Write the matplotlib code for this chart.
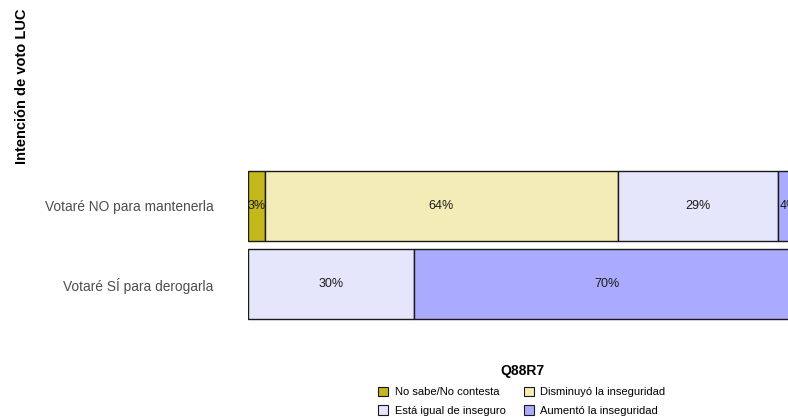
import matplotlib
matplotlib.use("Agg")
import matplotlib.pyplot as plt
from matplotlib.patches import Patch

plt.rcParams['font.family'] = ['Liberation Sans', 'DejaVu Sans']

# datos
grupos = ["Votaré SÍ para derogarla", "Votaré NO para mantenerla"]
categorias = ["No sabe/No contesta", "Disminuyó la inseguridad",
              "Está igual de inseguro", "Aumentó la inseguridad"]
colores = ["#c4b81b", "#f3ecb6", "#e5e5fc", "#aaaafe"]
valores = {
    "No sabe/No contesta":      [0, 3],
    "Disminuyó la inseguridad": [0, 64],
    "Está igual de inseguro":   [30, 29],
    "Aumentó la inseguridad":   [70, 4],
}

W, H = 788, 419
fig = plt.figure(figsize=(W / 100, H / 100), dpi=100)
# el panel sigue mas alla del borde derecho (recortado como en el original)
ax = fig.add_axes([248 / W, 1 - 331 / H, 552 / W, 172 / H])

izq = [0, 0]
for cat, col in zip(categorias, colores):
    vals = valores[cat]
    for i, v in enumerate(vals):
        if v == 0:
            continue
        ax.barh(i, v, left=izq[i], height=0.9, color=col,
                edgecolor='#1a1a1a', linewidth=1.0)
        ax.text(izq[i] + v / 2, i, f"{v}%", ha='center', va='center',
                fontsize=9, color='#1a1a1a')
        izq[i] += v

ax.set_xlim(0, 100)
ax.set_ylim(-0.6, 1.6)
ax.set_yticks(range(len(grupos)))
ax.set_yticklabels(grupos, fontsize=9.9, color='#4d4d4d')
ax.tick_params(axis='y', length=0, pad=25)
ax.set_xticks([])
for s in ax.spines.values():
    s.set_visible(False)

fig.text(22 / W, 1 - 86 / H, "Intención de voto LUC", rotation=90,
         ha='center', va='center', fontsize=10.5, fontweight='bold')

orden = [0, 2, 1, 3]
handles = [Patch(facecolor=colores[k], edgecolor='#1a1a1a', linewidth=0.8,
                 label=categorias[k]) for k in orden]
leg = fig.legend(handles=handles, ncol=2, loc='center',
                 bbox_to_anchor=(522 / W, 1 - 390 / H), frameon=False,
                 title="Q88R7", fontsize=8, handlelength=0.9,
                 handleheight=0.9, handletextpad=0.6, columnspacing=1.6,
                 labelspacing=0.75, borderpad=0)
leg.get_title().set_fontweight('bold')
leg.get_title().set_fontsize(10)

fig.savefig("out.png", dpi=100)
